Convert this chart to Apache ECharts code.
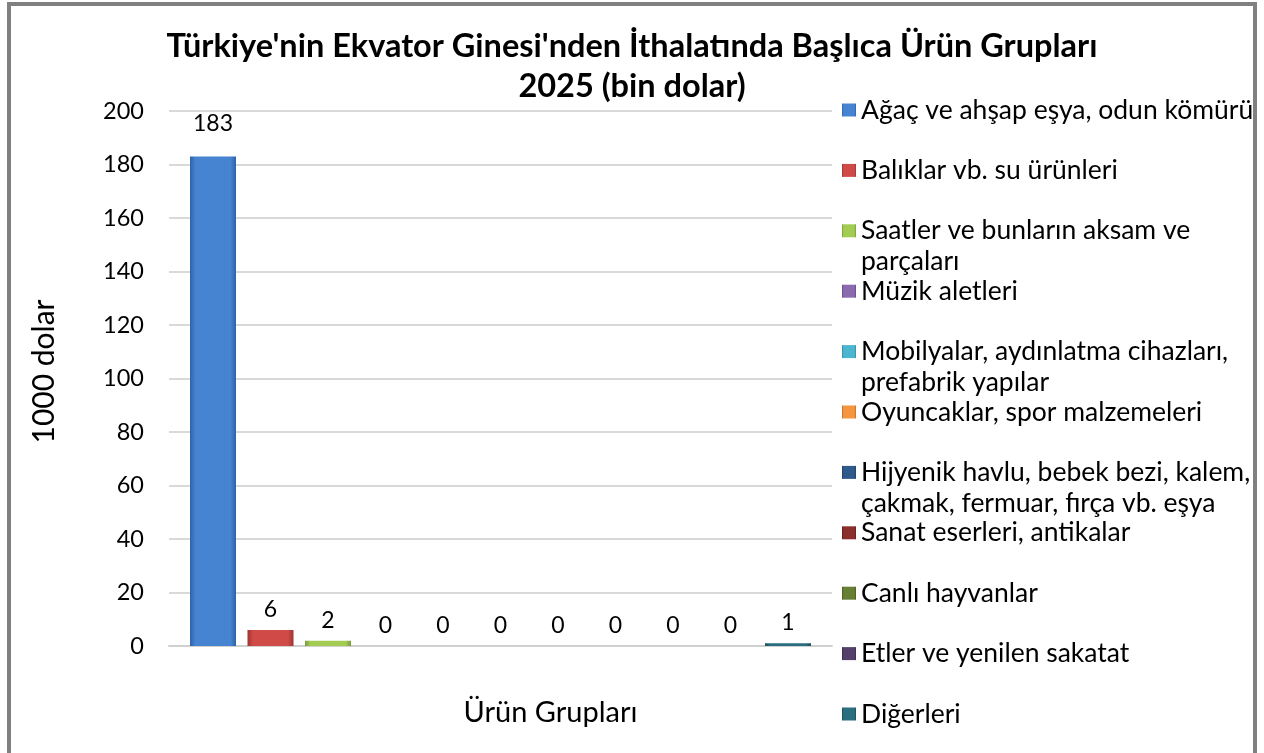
<!DOCTYPE html>
<html><head><meta charset="utf-8">
<script src="https://cdn.jsdelivr.net/npm/echarts@6/dist/echarts.min.js"></script>
<style>html,body{margin:0;padding:0;background:#fff}#c{width:1264px;height:753px}</style>
</head><body><div id="c"></div>
<script>
// ---- data ----
const categories = [''];
const seriesNames = [
  'Ağaç ve ahşap eşya, odun kömürü',
  'Balıklar vb. su ürünleri',
  'Saatler ve bunların aksam ve parçaları',
  'Müzik aletleri',
  'Mobilyalar, aydınlatma cihazları, prefabrik yapılar',
  'Oyuncaklar, spor malzemeleri',
  'Hijyenik havlu, bebek bezi, kalem, çakmak, fermuar, fırça vb. eşya',
  'Sanat eserleri, antikalar',
  'Canlı hayvanlar',
  'Etler ve yenilen sakatat',
  'Diğerleri'
];
// legend text as wrapped in the reference
const legendLabels = [
  'Ağaç ve ahşap eşya, odun kömürü',
  'Balıklar vb. su ürünleri',
  'Saatler ve bunların aksam ve\nparçaları',
  'Müzik aletleri',
  'Mobilyalar, aydınlatma cihazları,\nprefabrik yapılar',
  'Oyuncaklar, spor malzemeleri',
  'Hijyenik havlu, bebek bezi, kalem,\nçakmak, fermuar, fırça vb. eşya',
  'Sanat eserleri, antikalar',
  'Canlı hayvanlar',
  'Etler ve yenilen sakatat',
  'Diğerleri'
];
const seriesValues = [183, 6, 2, 0, 0, 0, 0, 0, 0, 0, 1];
const yMin = 0, yMax = 200, yStep = 20;
const titleText = "Türkiye'nin Ekvator Ginesi'nden İthalatında Başlıca Ürün Grupları\n2025 (bin dolar)";
const yName = '1000 dolar';
const xName = 'Ürün Grupları';

// ---- styles ----
const baseColors = ['#4684d2','#d04a47','#a3cc52','#8a6bb0','#4cb6d1','#f5953f','#2f5a8c','#8a2f2c','#667f33','#54406b','#2a6e80'];
const edgeColors = ['#2f62a6','#9c3532','#7a9a3c','#634c82','#368aa0','#c06e25','#203f63','#60201e','#475a22','#3a2c4a','#1c4d5a'];
const F = 'Lato';

function grad(i){
  return new echarts.graphic.LinearGradient(0,0,1,0,[
    {offset:0,color:edgeColors[i]},
    {offset:0.12,color:baseColors[i]},
    {offset:0.88,color:baseColors[i]},
    {offset:1,color:edgeColors[i]}
  ]);
}

const series = seriesNames.map((n,i)=>({
  name:n, type:'bar', barWidth:46, barGap:'25%',
  data:[seriesValues[i]],
  itemStyle:{color:grad(i), borderWidth:0},
  label:{show:true, position:'top', distance: i===0?21:9, fontFamily:F, fontSize:23, color:'#000'}
}));

const legends = seriesNames.map((n,i)=>{
  const c = 110 + i*60.4;
  const two = legendLabels[i].indexOf('\n') >= 0;
  return {
    data:[n], orient:'vertical', left:842, top: two ? c-46.5 : c-15.5,
    padding:0, itemWidth:14, itemHeight:13, itemGap:0, selectedMode:false, icon:'rect',
    itemStyle:{borderWidth:0},
    formatter: () => (two ? '\n' : '') + legendLabels[i],
    textStyle:{fontFamily:F, fontSize:26.5, color:'#000', lineHeight:31, overflow:'none'}
  };
});

const chart = echarts.init(document.getElementById('c'), null, {renderer:'canvas'});
chart.setOption({
  animation:false,
  backgroundColor:'#fff',
  title:{text:titleText, left:'center', top:27, padding:0,
    textStyle:{fontFamily:F, fontSize:32.5, fontWeight:'bold', color:'#000', lineHeight:40}},
  legend: legends,
  grid:{left:169, right:432, top:111, bottom:107, containLabel:false},
  xAxis:{type:'category', data:categories,
    axisLine:{lineStyle:{color:'#d0d0d0', width:2}}, axisTick:{show:false}, axisLabel:{show:false},
    name:xName, nameLocation:'middle', nameGap:52,
    nameTextStyle:{fontFamily:F, fontSize:29, color:'#000', lineHeight:30, padding:[0,0,0,100]}},
  yAxis:{type:'value', min:yMin, max:yMax, interval:yStep,
    axisLine:{show:false}, axisTick:{show:false},
    axisLabel:{fontFamily:F, fontSize:23.5, color:'#000', margin:25},
    splitLine:{lineStyle:{color:'#d9d9d9', width:2}},
    name:yName, nameLocation:'middle', nameGap:110, nameRotate:90,
    nameTextStyle:{fontFamily:F, fontSize:30, color:'#000', padding:[0,0,0,14]}},
  series: series,
  graphic:[{type:'rect', shape:{x:9,y:4,width:1246,height:800}, style:{fill:'none', stroke:'#808080', lineWidth:4}, silent:true, z:100}]
});
</script></body></html>
